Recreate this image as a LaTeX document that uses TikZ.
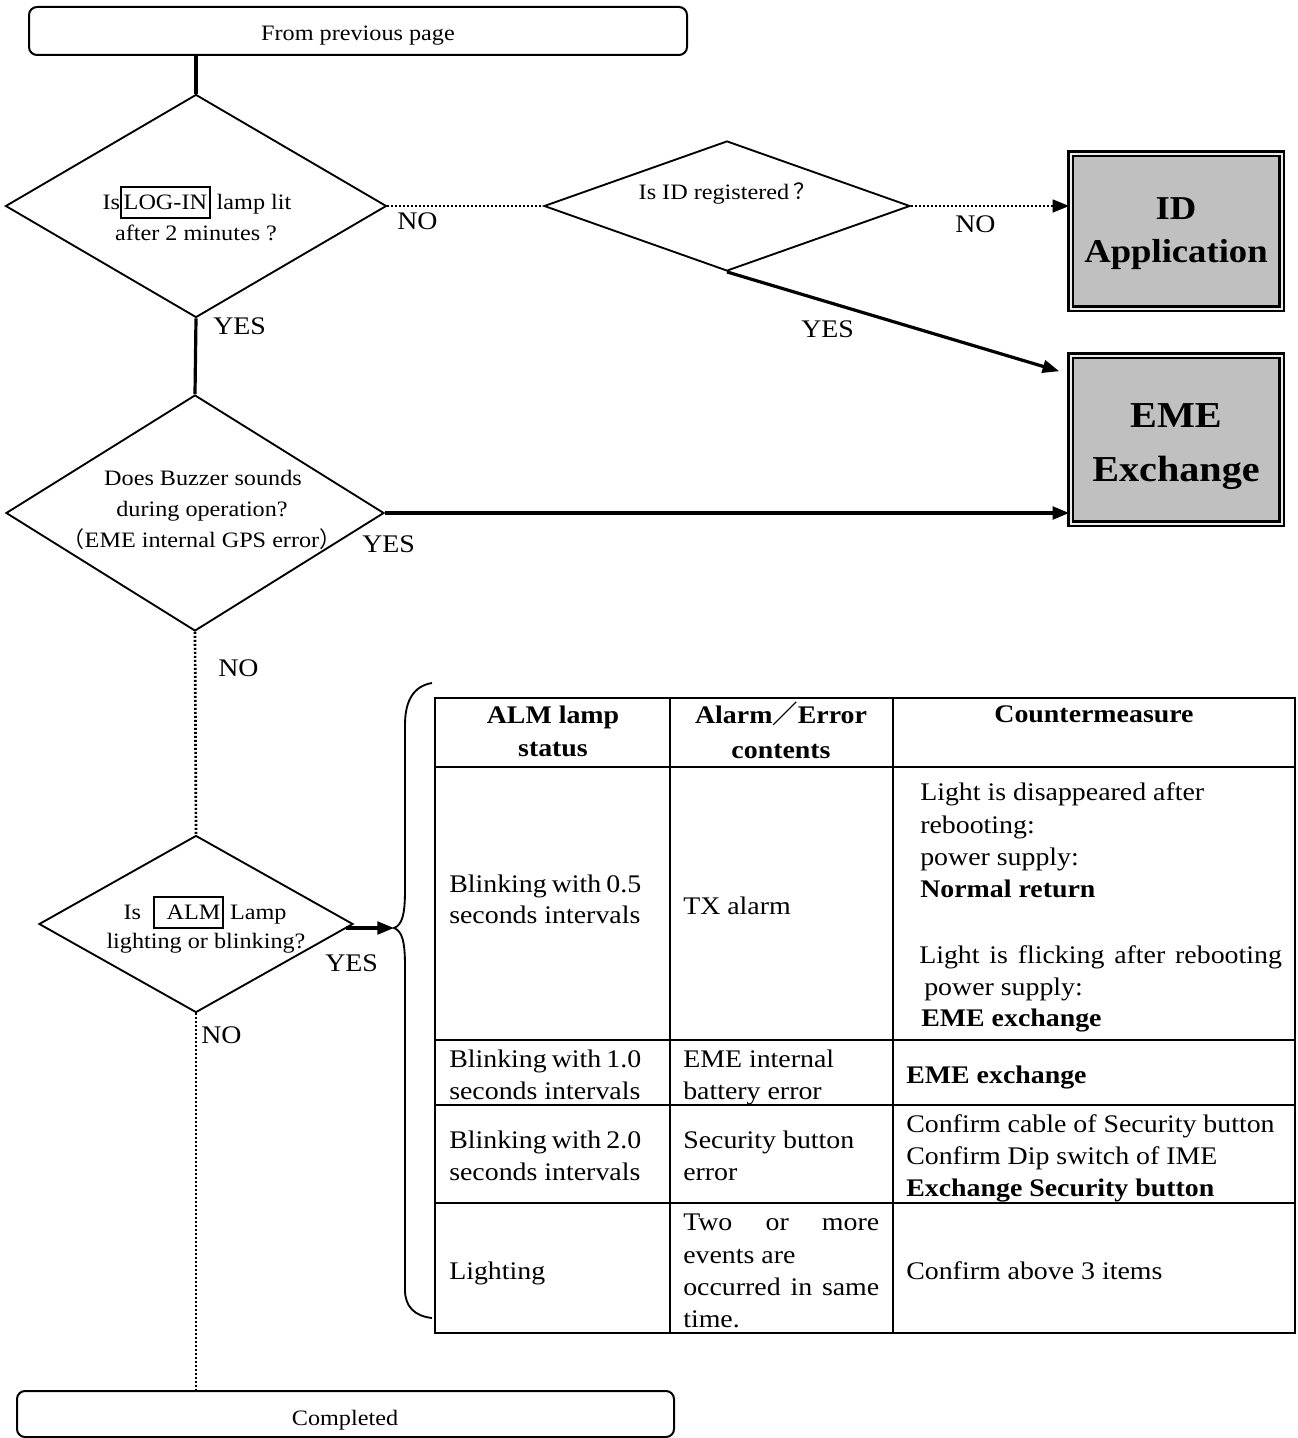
\documentclass[tikz,border=0pt]{standalone}
\usepackage{fontspec}
\setmainfont{Liberation Serif}[FakeStretch=1.1]
\newfontfamily\cjk{Noto Sans CJK SC}
\usetikzlibrary{shapes.geometric,arrows.meta,calc}

\definecolor{panelgray}{HTML}{C0C0C0}
\newcommand\qfont{\fontsize{16.5pt}{20pt}\selectfont}
\newcommand\ansfont{\fontsize{19pt}{23pt}\selectfont}
\newcommand\tabfont{\fontsize{19pt}{24.75pt}\selectfont}
% framed lamp name inside a question
\newcommand\lampbox[2][1.5pt]{{\setlength\fboxsep{0pt}\setlength\fboxrule{1.2pt}\fbox{\rule[-6pt]{0pt}{22pt}\hspace{#1}#2\hspace{1.5pt}}}}

\tikzset{
  pagebox/.style={draw, line width=1.5pt, rounded corners=6pt, inner sep=0pt},
  decision/.style={draw, diamond, line width=1.4pt, inner sep=0pt},
  endbox/.style={draw=black, line width=1.9pt, double=gray!15, double distance=1.5pt,
                 fill=panelgray, minimum width=158.25pt, inner sep=0pt},
  mainflow/.style={line width=2.4pt},
  altflow/.style={line width=2pt, dash pattern=on 1.5pt off 1.5pt},
  flowtip/.style={-{Triangle[length=12.5pt,width=9.5pt]}},
  qtext/.style={font=\qfont, inner sep=0pt, anchor=base},
  endtext/.style={font=\bfseries, inner sep=0pt, anchor=base},
  answer/.style={font=\ansfont, inner sep=0pt, anchor=base west},
  cell/.style={font=\tabfont, inner sep=0pt, anchor=base west},
  headcell/.style={font=\tabfont\bfseries, inner sep=0pt, anchor=base},
  tablerule/.style={line width=1.5pt},
  bracestroke/.style={line width=1.4pt},
}

\begin{document}
\begin{tikzpicture}[x=0.75pt,y=-0.75pt]
\useasboundingbox (0,0) rectangle (1298,1438);

% ---------- terminals ----------
\node[pagebox, minimum width=493.5pt, minimum height=36pt] (start) at (358,31) {};
\node[qtext] (starttxt) at (358,41) {From previous page};
\node[pagebox, minimum width=492.75pt, minimum height=34.5pt] (done) at (345.5,1414) {};
\node[qtext] (donetxt) at (345,1425) {Completed};

% ---------- decisions ----------
\node[decision, minimum width=285.75pt, minimum height=167.25pt] (login) at (196,206) {};
\node[qtext] (logintxta) at (197,209) {Is\lampbox{LOG-IN} lamp lit};
\node[qtext] (logintxtb) at (196,240) {after 2 minutes ?};

\node[decision, minimum width=274.5pt, minimum height=97.5pt] (idq) at (727,206) {};
\node[qtext] (idqtxt) at (727,199) {Is ID registered\hspace{3pt}{\cjk ？}};

\node[decision, minimum width=283.5pt, minimum height=177pt] (buzz) at (195,513) {};
\node[qtext] (buzztxta) at (203,485) {Does Buzzer sounds};
\node[qtext] (buzztxtb) at (202,516) {during operation?};
\node[qtext] (buzztxtc) at (202,547) {{\cjk （}EME internal GPS error{\cjk ）}};

\node[decision, minimum width=235.5pt, minimum height=132.75pt] (alm) at (196,924) {};
\node[qtext] (almtxta) at (205,919) {Is\hspace{9pt}\lampbox[9pt]{ALM} Lamp};
\node[qtext] (almtxtb) at (206,948) {lighting or blinking?};

% ---------- result boxes ----------
\node[endbox, minimum height=116.25pt] (idapp) at (1176,231) {};
\node[endtext, font=\fontsize{25pt}{30pt}\selectfont\bfseries] (idapptxta) at (1176,219) {ID};
\node[endtext, font=\fontsize{25pt}{30pt}\selectfont\bfseries] (idapptxtb) at (1176,262) {Application};

\node[endbox, minimum height=126pt] (eme) at (1176,439.5) {};
\node[endtext, font=\fontsize{27.4pt}{32pt}\selectfont\bfseries] (emetxta) at (1176,427) {EME};
\node[endtext, font=\fontsize{27.4pt}{32pt}\selectfont\bfseries] (emetxtb) at (1176,481) {Exchange};

% ---------- connectors ----------
\draw[mainflow] (login.north |- start.south) -- (login.north);
\draw[mainflow] (login.south) -- (buzz.north);
\draw[altflow] (buzz.south) -- (alm.north);
\draw[altflow] (alm.south) -- (alm.south |- done.north);
\draw[altflow] (login.east) -- (idq.west);
\draw[altflow, flowtip] (idq.east) -- (idq.east -| idapp.west);
\draw[mainflow, flowtip] (idq.south) -- ($(eme.north west)+(-10,17)$);
\draw[mainflow, flowtip] (buzz.east) -- (buzz.east -| eme.west);

% ---------- answers ----------
\node[answer] (noa) at (397,229) {NO};
\node[answer] (nob) at (955,232) {NO};
\node[answer] (yesa) at (801,337) {YES};
\node[answer] (yesb) at (213,334) {YES};
\node[answer] (yesc) at (362,552) {YES};
\node[answer] (noc) at (218,676) {NO};
\node[answer] (yesd) at (325,971) {YES};
\node[answer] (nod) at (201,1043) {NO};

% ---------- brace grouping the lamp table ----------
\coordinate (bracetip) at (394,928);
\draw[bracestroke] (432,683) .. controls (414,686) and (405,700) .. (405,725)
  -- (405,890) .. controls (405,915) and (402,925) .. (bracetip)
  .. controls (402,931) and (405,941) .. (405,966)
  -- (405,1290) .. controls (405,1306) and (414,1316) .. (432,1318);
\draw[mainflow, flowtip] ($(alm.east)+(-8,4)$) -- (bracetip);

% ---------- lamp status table ----------
\draw[tablerule] (435,698) rectangle (1295,1333);
\draw[tablerule] (670,698) -- (670,1333);
\draw[tablerule] (893,698) -- (893,1333);
\foreach \ry in {767,1040,1105,1203}
  \draw[tablerule] (435,\ry) -- (1295,\ry);

% header
\node[headcell] (ha) at (553,723) {ALM lamp};
\node[headcell] (hb) at (553,756) {status};
\node[headcell] (hc) at (781,723) {Alarm{\cjk ／}Error};
\node[headcell] (hd) at (781,758) {contents};
\node[headcell] (he) at (1094,722) {Countermeasure};

% row 1
\node[cell] (r1a) at (449,892) {\makebox[144pt][s]{Blinking with 0.5}};
\node[cell] (r1b) at (449,923) {seconds intervals};
\node[cell] (r1c) at (683,914) {TX alarm};
\node[cell] (r1d) at (920,800) {Light is disappeared after};
\node[cell] (r1e) at (920,833) {rebooting:};
\node[cell] (r1f) at (920,865) {power supply:};
\node[cell] (r1g) at (920,897) {\bfseries Normal return};
\node[cell] (r1h) at (919,963) {\makebox[272pt][s]{Light is flicking after rebooting}};
\node[cell] (r1i) at (924,995) {power supply:};
\node[cell] (r1j) at (921,1026) {\bfseries EME exchange};

% row 2
\node[cell] (r2a) at (449,1067) {\makebox[144pt][s]{Blinking with 1.0}};
\node[cell] (r2b) at (449,1099) {seconds intervals};
\node[cell] (r2c) at (683,1067) {EME internal};
\node[cell] (r2d) at (683,1099) {battery error};
\node[cell] (r2e) at (906,1083) {\bfseries EME exchange};

% row 3
\node[cell] (r3a) at (449,1148) {\makebox[144pt][s]{Blinking with 2.0}};
\node[cell] (r3b) at (449,1180) {seconds intervals};
\node[cell] (r3c) at (683,1148) {Security button};
\node[cell] (r3d) at (683,1180) {error};
\node[cell] (r3e) at (906,1132) {Confirm cable of Security button};
\node[cell] (r3f) at (906,1164) {Confirm Dip switch of IME};
\node[cell] (r3g) at (906,1196) {\bfseries Exchange Security button};

% row 4
\node[cell] (r4a) at (449,1279) {Lighting};
\node[cell] (r4b) at (683,1230) {\makebox[147pt][s]{Two or more}};
\node[cell] (r4c) at (683,1263) {events are};
\node[cell] (r4d) at (683,1295) {\makebox[147pt][s]{occurred in same}};
\node[cell] (r4e) at (683,1327) {time.};
\node[cell] (r4f) at (906,1279) {Confirm above 3 items};
\end{tikzpicture}
\end{document}
